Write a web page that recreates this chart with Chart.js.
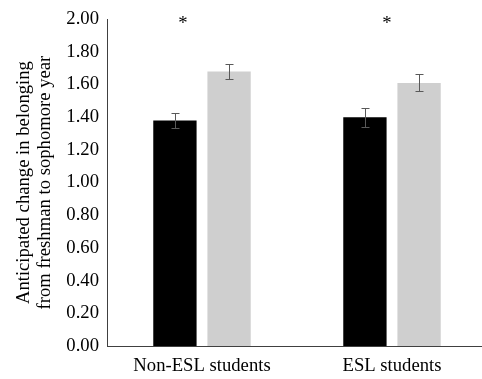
<!DOCTYPE html>
<html>
<head>
<meta charset="utf-8">
<script src="https://cdn.jsdelivr.net/npm/chart.js@4"></script>
<style>
html,body{margin:0;padding:0;background:#fff;}
#wrap{width:482px;height:379px;position:relative;overflow:hidden;}
</style>
</head>
<body>
<div id="wrap"><canvas id="c" width="487" height="379"></canvas></div>
<script>
const categories = ['Non-ESL students', 'ESL students'];
const seriesA = [1.38, 1.40];
const seriesB = [1.68, 1.61];
const errA = [0.048, 0.058];
const errB = [0.044, 0.052];
const significance = ['*', '*'];
const yTicks = [0, 0.2, 0.4, 0.6, 0.8, 1.0, 1.2, 1.4, 1.6, 1.8, 2.0];

const FONT = "'Liberation Serif', 'Times New Roman', serif";
const FS = 18.67;

const errorBars = {
  id: 'errorBars',
  afterDatasetsDraw(chart) {
    const ctx = chart.ctx;
    const y = chart.scales.y;
    const errs = [errA, errB];
    ctx.save();
    ctx.strokeStyle = '#595959';
    ctx.lineWidth = 1;
    chart.data.datasets.forEach((ds, di) => {
      const meta = chart.getDatasetMeta(di);
      meta.data.forEach((bar, i) => {
        const v = ds.data[i];
        const e = errs[di][i];
        const x = Math.round(bar.x) + 0.5;
        const yt = Math.round(y.getPixelForValue(v + e)) + 0.5;
        const yb = Math.round(y.getPixelForValue(v - e)) + 0.5;
        ctx.beginPath();
        ctx.moveTo(x, yt); ctx.lineTo(x, yb);
        ctx.moveTo(x - 4, yt); ctx.lineTo(x + 4, yt);
        ctx.moveTo(x - 4, yb); ctx.lineTo(x + 4, yb);
        ctx.stroke();
      });
    });
    // significance markers
    const xs = chart.scales.x;
    const offs = [-19, -5];
    ctx.fillStyle = '#000';
    ctx.font = FS + 'px ' + FONT;
    ctx.textAlign = 'center';
    ctx.textBaseline = 'middle';
    significance.forEach((s, i) => {
      ctx.fillText(s, xs.getPixelForValue(i) + offs[i], y.getPixelForValue(2.0) + 5);
    });
    ctx.restore();
  }
};

new Chart(document.getElementById('c'), {
  type: 'bar',
  data: {
    labels: categories,
    datasets: [
      { data: seriesA, backgroundColor: '#000000', categoryPercentage: 0.57, barPercentage: 0.8 },
      { data: seriesB, backgroundColor: '#cfcfcf', categoryPercentage: 0.57, barPercentage: 0.8 }
    ]
  },
  options: {
    responsive: false,
    animation: false,
    layout: { padding: { top: 16, right: 0, left: 0, bottom: 0 } },
    plugins: { legend: { display: false }, tooltip: { enabled: false } },
    scales: {
      x: {
        grid: { display: false, drawTicks: false },
        border: { display: true, color: '#404040', width: 1 },
        ticks: { color: '#000', font: { family: FONT, size: FS }, padding: 9 },
        afterFit(s) { s.height = 33; }
      },
      y: {
        min: 0, max: 2,
        afterBuildTicks(s) { s.ticks = yTicks.map(v => ({ value: v })); },
        grid: { display: false, drawTicks: false },
        border: { display: true, color: '#404040', width: 1 },
        ticks: {
          color: '#000', font: { family: FONT, size: FS }, padding: 8,
          callback: v => Number(v).toFixed(2)
        },
        title: {
          display: true,
          text: ['Anticipated change in belonging', 'from freshman to sophomore year'],
          color: '#000', font: { family: FONT, size: FS, lineHeight: 1.12 },
          padding: { top: 14, bottom: 0 }
        },
        afterFit(s) { s.width = 107; }
      }
    }
  },
  plugins: [errorBars]
});
</script>
</body>
</html>
